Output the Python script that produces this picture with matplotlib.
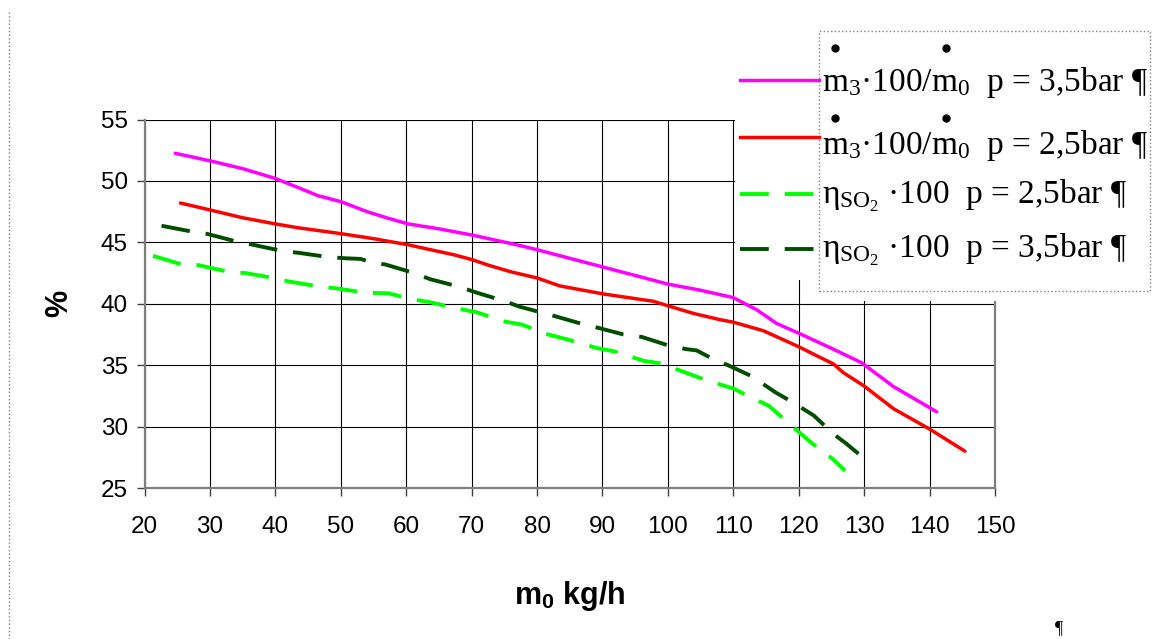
import matplotlib
matplotlib.use("Agg")
import matplotlib.pyplot as plt
from matplotlib.lines import Line2D
from matplotlib.patches import Rectangle

# values
# m3*100/m0, p = 3,5 bar (magenta)
m35_x = [24.7, 30.3, 35, 40, 43.3, 46.5, 50.1, 54, 57, 60.3, 65, 70, 76.9, 80,
         85, 90, 95, 100, 105, 110, 113.6, 116.6, 120, 124.7, 129.6, 134.5, 141.1]
m35_y = [52.25, 51.6, 51.0, 50.2, 49.5, 48.8, 48.3, 47.5, 47.0, 46.5, 46.1, 45.6,
         44.8, 44.4, 43.7, 43.0, 42.3, 41.6, 41.1, 40.5, 39.5, 38.4, 37.6, 36.45,
         35.2, 33.25, 31.2]
# m3*100/m0, p = 2,5 bar (red)
m25_x = [25.5, 30.3, 35, 40, 43.3, 50.1, 55, 60.3, 63.7, 67.2, 70, 72.8, 76, 80,
         83.5, 90.1, 97.8, 100.2, 104, 108, 110, 114.6, 120, 123, 125.3, 126.8,
         130, 134.5, 140, 145.4]
m25_y = [48.2, 47.6, 47.0, 46.5, 46.2, 45.7, 45.3, 44.8, 44.4, 44.0, 43.6, 43.1,
         42.6, 42.1, 41.45, 40.8, 40.2, 39.8, 39.2, 38.7, 38.5, 37.8, 36.5, 35.7,
         35.1, 34.4, 33.3, 31.45, 29.8, 28.0]
# eta_SO2*100, p = 2,5 bar (light green, dashed)
e25_x = [21.3, 25.7, 28.2, 32.8, 35.4, 39.7, 42.2, 46.8, 49.4, 53.7, 57.3, 60.6,
         63.4, 68, 70.8, 75.1, 77.7, 81.7, 84.6, 89.1, 92, 96.3, 98.8, 103.2, 106,
         110, 112.6, 115.4, 119.5, 122, 125.1, 127.1]
e25_y = [43.9, 43.2, 43.15, 42.6, 42.5, 42.1, 41.8, 41.4, 41.25, 40.9, 40.85, 40.4,
         40.15, 39.6, 39.3, 38.55, 38.3, 37.5, 37.1, 36.4, 36.1, 35.35, 35.15, 34.3,
         33.75, 33.1, 32.4, 31.7, 29.8, 28.65, 27.4, 26.4]
# eta_SO2*100, p = 3,5 bar (dark green, dashed)
e35_x = [22.6, 27, 29.5, 33.8, 36.6, 41, 43.5, 48.1, 50.8, 53, 55.2, 56.8, 61.2,
         63.65, 68, 70.8, 74.8, 77.4, 82, 86.6, 88.9, 93.2, 96, 100.4, 102.9, 104.4,
         106, 110, 112.8, 116.4, 119, 122.3, 125.3, 127.3, 130]
e35_y = [46.35, 45.9, 45.7, 45.1, 44.8, 44.3, 44.15, 43.8, 43.7, 43.65, 43.3, 43.2,
         42.5, 42.0, 41.4, 40.9, 40.25, 39.75, 39.1, 38.4, 38.1, 37.5, 37.3, 36.55,
         36.3, 36.2, 35.75, 34.8, 34.1, 32.8, 32.0, 30.9, 29.4, 28.6, 27.4]

x_ticks = list(range(20, 151, 10))
y_ticks = list(range(25, 56, 5))

# legend texts; the dots over the m are put on separately (Mathcad style)
M3 = r"m$_3$"
M0 = r"m$_0$"
labels = [
    M3 + "·100/" + M0 + "  p = 3,5bar ¶",
    M3 + "·100/" + M0 + "  p = 2,5bar ¶",
    "η" + r"$_{\mathrm{SO_2}}$" + " ·100  p = 2,5bar ¶",
    "η" + r"$_{\mathrm{SO_2}}$" + " ·100  p = 3,5bar ¶",
]
dotted_prefix = [["", M3 + "·100/"], ["", M3 + "·100/"], [], []]

C_MAG = "#ff00ff"
C_RED = "#ff0000"
C_LG = "#00ff00"
C_DG = "#004d00"

W, H = 1167, 639
plt.rcParams["mathtext.fontset"] = "custom"
plt.rcParams["mathtext.rm"] = "Liberation Serif"
plt.rcParams["mathtext.it"] = "Liberation Serif:italic"
plt.rcParams["mathtext.sf"] = "Liberation Sans:bold"


def fx(px):
    return px / W


def fy(py):
    return 1 - py / H


fig = plt.figure(figsize=(W / 100, H / 100), dpi=100)
ax = fig.add_axes([fx(144.5), fy(488), (995 - 144.5) / W, (488 - 119.5) / H])

LW = 2.5
DLW = 2.8
DASH = (7.4, 4.1)
ax.plot(m35_x, m35_y, color=C_MAG, lw=LW, solid_capstyle="round", zorder=3)
ax.plot(m25_x, m25_y, color=C_RED, lw=LW, solid_capstyle="round", zorder=3)
ax.plot(e25_x, e25_y, color=C_LG, lw=DLW, dashes=DASH, zorder=3)
ax.plot(e35_x, e35_y, color=C_DG, lw=DLW, dashes=DASH, zorder=3)

ax.set_xlim(20, 150)
ax.set_ylim(25, 55)
ax.set_xticks(x_ticks)
ax.set_yticks(y_ticks)
ax.grid(True, color="black", lw=0.8)
ax.set_axisbelow(True)
for s in ["left", "bottom", "right"]:
    ax.spines[s].set_color("#7f7f7f")
    ax.spines[s].set_linewidth(1.6)
ax.spines["top"].set_visible(False)
ax.tick_params(direction="out", length=6, width=1, color="#404040",
               labelsize=17.5, pad=6)
for lab in ax.get_xticklabels() + ax.get_yticklabels():
    lab.set_fontfamily("Liberation Sans")
ax.tick_params(axis="x", pad=14)

ax.set_xlabel(r"m$_\mathsf{0}$ kg/h", fontsize=22, fontweight="bold",
              family="Liberation Sans", labelpad=30)
fig.text(fx(59), fy(303), "%", rotation=90, fontsize=22, fontweight="bold",
         family="Liberation Sans", ha="center", va="center")

# legend: white cover, dotted frame round the texts, keys sticking out left
fig.add_artist(Rectangle((fx(735), fy(280)), (820 - 735) / W, (280 - 25) / H,
                         transform=fig.transFigure, facecolor="white",
                         edgecolor="none", zorder=5))
fig.add_artist(Rectangle((fx(819), fy(301)), (1152 - 819) / W, (301 - 25) / H,
                         transform=fig.transFigure, facecolor="white",
                         edgecolor="none", zorder=5))
fig.add_artist(Rectangle((fx(819), fy(291)), (1150 - 819) / W, (291 - 31) / H,
                         transform=fig.transFigure, facecolor="none",
                         edgecolor="#808080", lw=1, linestyle=":", zorder=6))
key_y = [80, 137, 194, 249]
base_y = [91, 154, 204, 258]
dot_y = [48, 118, 0, 0]
styles = [(C_MAG, None), (C_RED, None), (C_LG, DASH), (C_DG, DASH)]
LEG_FS = 24
TX0 = 822
renderer = fig.canvas.get_renderer()
m_w = fig.text(0, 0, "m", fontsize=LEG_FS, family="Liberation Serif")
m_half = m_w.get_window_extent(renderer).width / 2
m_w.remove()
for i, (lab, ky, by, (col, dsh)) in enumerate(zip(labels, key_y, base_y, styles)):
    ln = Line2D([fx(740), fx(819)], [fy(ky), fy(ky)], transform=fig.transFigure,
                color=col, lw=LW if dsh is None else DLW, zorder=7)
    if dsh is not None:
        ln.set_dashes(dsh)
    fig.add_artist(ln)
    fig.text(fx(TX0), fy(by), lab, fontsize=LEG_FS, family="Liberation Serif",
             ha="left", va="baseline", zorder=7)
    # the time-derivative dot above each m
    for pre in dotted_prefix[i]:
        off = 0.0
        if pre:
            t = fig.text(0, 0, pre, fontsize=LEG_FS, family="Liberation Serif")
            off = t.get_window_extent(renderer).width
            t.remove()
        fig.add_artist(Line2D([fx(TX0 + off + m_half)], [fy(dot_y[i])],
                              transform=fig.transFigure, marker="o",
                              markersize=5, color="black", lw=0, zorder=7))

# page decorations of the original document
fig.add_artist(Line2D([fx(9), fx(9)], [fy(12), fy(639)], transform=fig.transFigure,
                      color="#808080", lw=1, linestyle=":"))
fig.text(fx(1055), fy(637), "¶", fontsize=13, family="Liberation Serif",
         ha="left", va="bottom")

fig.savefig("out.png", dpi=100)
